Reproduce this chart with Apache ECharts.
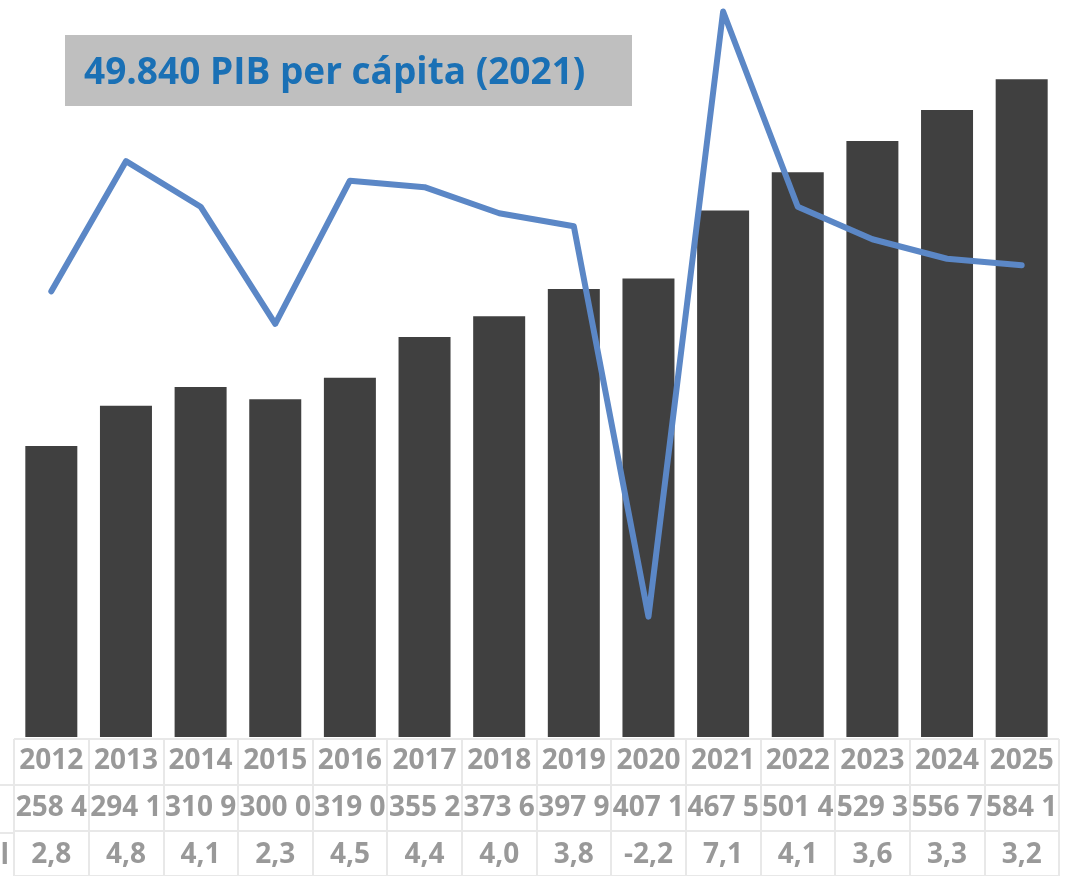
<!DOCTYPE html>
<html>
<head>
<meta charset="utf-8">
<script src="https://cdn.jsdelivr.net/npm/echarts@6/dist/echarts.min.js"></script>
<style>
html,body{margin:0;padding:0;background:#fff;}
#chart{width:1066px;height:876px;}
</style>
</head>
<body>
<div id="chart"></div>
<script>
const years = ['2012','2013','2014','2015','2016','2017','2018','2019','2020','2021','2022','2023','2024','2025'];
const gdp = [258.4, 294.1, 310.9, 300.0, 319.0, 355.2, 373.6, 397.9, 407.1, 467.5, 501.4, 529.3, 556.7, 584.1];
const gdpLabels = ['258 4','294 1','310 9','300 0','319 0','355 2','373 6','397 9','407 1','467 5','501 4','529 3','556 7','584 1'];
const growth = [2.8, 4.8, 4.1, 2.3, 4.5, 4.4, 4.0, 3.8, -2.2, 7.1, 4.1, 3.6, 3.3, 3.2];
const growthLabels = ['2,8','4,8','4,1','2,3','4,5','4,4','4,0','3,8','-2,2','7,1','4,1','3,6','3,3','3,2'];
const titleText = '49.840 PIB per cápita (2021)';
const rowHeader = 'Crecimiento real';

const FONT = '"Open Sans", "Noto Sans", sans-serif';
const GRAY = '#999999';
const chart = echarts.init(document.getElementById('chart'), null, {renderer: 'canvas'});

const cellStyle = {fontFamily: FONT, fontWeight: 'bold', fontSize: 28, color: GRAY, lineHeight: 47, align: 'center'};

chart.setOption({
  animation: false,
  backgroundColor: '#fff',
  grid: [
    {left: 14, right: 7, top: 5, bottom: 139},
    {left: 14, right: 7, top: 739, bottom: -4}
  ],
  xAxis: [
    {
      type: 'category', gridIndex: 0, data: years, boundaryGap: true,
      axisLine: {show: false}, axisTick: {show: false}, splitLine: {show: false},
      axisLabel: {
        interval: 0, margin: 1,
        formatter: function (v, i) {
          return '{a|' + v + '}\n{b|' + gdpLabels[i] + '}\n{c|' + growthLabels[i] + '}';
        },
        rich: {a: cellStyle, b: cellStyle, c: cellStyle}
      }
    },
    {
      type: 'category', gridIndex: 1, data: years, boundaryGap: true,
      axisLine: {show: false}, axisTick: {show: false}, axisLabel: {show: false},
      splitLine: {show: true, lineStyle: {color: '#E8E8E8', width: 2}}
    }
  ],
  yAxis: [
    {type: 'value', gridIndex: 0, min: 0, max: 650, show: false, splitLine: {show: false}},
    {type: 'value', gridIndex: 0, min: -4.05, max: 7.2, show: false, splitLine: {show: false}},
    {
      type: 'value', gridIndex: 1, min: 0, max: 3, interval: 1,
      axisLine: {show: false}, axisTick: {show: false}, axisLabel: {show: false},
      splitLine: {show: true, lineStyle: {color: '#E8E8E8', width: 2}}
    }
  ],
  series: [
    {
      type: 'bar', xAxisIndex: 0, yAxisIndex: 0, data: gdp, barWidth: 52,
      itemStyle: {color: '#404040'}
    },
    {
      type: 'line', xAxisIndex: 0, yAxisIndex: 1, data: growth,
      symbol: 'none', z: 5,
      lineStyle: {color: '#5B87C6', width: 6, cap: 'round', join: 'round'}
    }
  ],
  graphic: [
    {type: 'rect', left: 65, top: 35, shape: {width: 567, height: 71}, style: {fill: '#BFBFBF'}, z: 10},
    {type: 'text', x: 84, y: 73, z: 11,
      style: {text: titleText, font: 'bold 37px ' + FONT, fill: '#1A70B5', verticalAlign: 'middle'}},
    {type: 'line', shape: {x1: 0, y1: 785, x2: 14, y2: 785}, style: {stroke: '#E8E8E8', lineWidth: 2}},
    {type: 'line', shape: {x1: 0, y1: 833, x2: 14, y2: 833}, style: {stroke: '#E8E8E8', lineWidth: 2}},
    {type: 'text', x: 9, y: 856, z: 11,
      style: {text: rowHeader, font: 'bold 28px ' + FONT, fill: GRAY, align: 'right', verticalAlign: 'middle'}}
  ]
});
</script>
</body>
</html>
